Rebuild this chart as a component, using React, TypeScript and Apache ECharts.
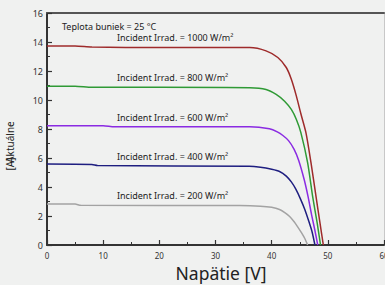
import React, { useEffect, useRef } from "react";
import * as echarts from "echarts";

const xTicks = [0, 10, 20, 30, 40, 50, 60];
const yTicks = [0, 2, 4, 6, 8, 10, 12, 14, 16];

const seriesNames = ["1000", "800", "600", "400", "200"];
const seriesColors = ["#9e2b2b", "#2f9a35", "#8a2be2", "#1e1e80", "#a3a3a3"];

const v1000 = [0, 5, 8, 20, 36.1, 39.0, 41.1, 42.6, 43.5, 44.4, 45.2, 46.1, 47.0, 47.9, 48.6, 49.2];
const i1000 = [13.72, 13.72, 13.65, 13.62, 13.62, 13.39, 12.93, 12.24, 11.43, 10.27, 9.05, 7.75, 5.68, 3.34, 1.52, 0];

const v800 = [0, 5, 8, 20, 36.1, 39.0, 40.8, 42.3, 43.5, 44.4, 45.2, 46.4, 47.3, 48.1, 48.7];
const i800 = [10.95, 10.95, 10.88, 10.88, 10.85, 10.73, 10.39, 9.92, 9.35, 8.66, 7.75, 5.68, 3.34, 1.52, 0];

const v600 = [0, 10, 12, 36.1, 39.6, 41.0, 42.0, 43.0, 44.0, 44.8, 45.8, 46.5, 47.1, 47.7, 48.2];
const i600 = [8.22, 8.22, 8.15, 8.15, 8.01, 7.8, 7.55, 7.2, 6.6, 5.85, 4.5, 3.3, 2.1, 1.0, 0];

const v400 = [0, 8, 9, 36, 38, 40, 41.4, 42.6, 43.5, 44.3, 45.1, 45.9, 46.6, 47.2, 47.7];
const i400 = [5.58, 5.55, 5.48, 5.43, 5.36, 5.22, 5.07, 4.75, 4.35, 3.85, 3.2, 2.45, 1.65, 0.9, 0];

const v200 = [0, 5, 6, 34.3, 38, 40, 41.4, 42.4, 43.2, 44.0, 44.6, 45.3, 45.9, 46.4];
const i200 = [2.82, 2.82, 2.74, 2.72, 2.68, 2.6, 2.45, 2.22, 1.96, 1.6, 1.27, 0.85, 0.45, 0];

const voltages = [v1000, v800, v600, v400, v200];
const currents = [i1000, i800, i600, i400, i200];

const annotationTexts = [
  "Incident Irrad. = 1000 W/m²",
  "Incident Irrad. = 800 W/m²",
  "Incident Irrad. = 600 W/m²",
  "Incident Irrad. = 400 W/m²",
  "Incident Irrad. = 200 W/m²",
];
const annotationY = [38, 78, 118, 157, 196];
const tempText = "Teplota buniek = 25 °C";
const xTitle = "Napätie [V]";
const yTitle = "Aktuálne";
const yUnit = "[A]";

const FONT = "Noto Sans";

export default function App() {
  const ref = useRef<HTMLDivElement>(null);
  useEffect(() => {
    if (!ref.current) return;
    const chart = echarts.init(ref.current, null, { renderer: "svg" });
    const axisLabelStyle = { color: "#333", fontFamily: FONT };
    const option: any = {
      animation: false,
      backgroundColor: "#f0f1f0",
      grid: { left: 47, right: 1, top: 13, bottom: 40, containLabel: false, outerBoundsMode: "none" },
      xAxis: [
        {
          type: "value",
          min: 0,
          max: 60,
          interval: 10,
          axisLine: { show: true, onZero: false, lineStyle: { color: "#333", width: 2 } },
          axisTick: { show: true, inside: true, length: 5, lineStyle: { color: "#333", width: 1.2 } },
          minorTick: { show: true, splitNumber: 2, length: 3, lineStyle: { color: "#333" } },
          splitLine: { show: false },
          axisLabel: { ...axisLabelStyle, fontSize: 8, margin: 6 },
        },
        {
          type: "value",
          position: "top",
          min: 0,
          max: 60,
          axisLine: { show: true, onZero: false, lineStyle: { color: "#555", width: 2 } },
          axisTick: { show: false },
          axisLabel: { show: false },
          splitLine: { show: false },
        },
      ],
      yAxis: [
        {
          type: "value",
          min: 0,
          max: 16,
          interval: 2,
          axisLine: { show: true, onZero: false, lineStyle: { color: "#333", width: 2 } },
          axisTick: { show: true, inside: true, length: 5, lineStyle: { color: "#333", width: 1.2 } },
          minorTick: { show: true, splitNumber: 2, length: 3, lineStyle: { color: "#333" } },
          splitLine: { show: false },
          axisLabel: { ...axisLabelStyle, fontSize: 9, margin: 4 },
        },
        {
          type: "value",
          position: "right",
          min: 0,
          max: 16,
          axisLine: { show: true, onZero: false, lineStyle: { color: "#c8c8c8", width: 1 } },
          axisTick: { show: false },
          axisLabel: { show: false },
          splitLine: { show: false },
        },
      ],
      series: seriesNames.map((name, k) => ({
        name,
        type: "line",
        xAxisIndex: 0,
        yAxisIndex: 0,
        showSymbol: false,
        smooth: 0.25,
        lineStyle: { color: seriesColors[k], width: 1.5 },
        data: voltages[k].map((v, j) => [v, currents[k][j]]),
      })),
      graphic: [
        {
          type: "text",
          left: 62,
          top: 22,
          style: { text: tempText, fontSize: 9, fontFamily: FONT, fill: "#222" },
        },
        ...annotationTexts.map((t, k) => ({
          type: "text",
          left: 117,
          top: annotationY[k] - 5,
          style: { text: t, fontSize: 9, fontFamily: FONT, fill: "#222" },
        })),
        {
          type: "text",
          x: 221,
          y: 273,
          style: {
            text: xTitle,
            fontSize: 17.5,
            fontFamily: FONT,
            fill: "#222",
            align: "center",
            verticalAlign: "middle",
          },
        },
        {
          type: "text",
          x: 10,
          y: 142,
          rotation: Math.PI / 2,
          style: {
            text: yTitle,
            fontSize: 10,
            fontFamily: FONT,
            fill: "#222",
            align: "center",
            verticalAlign: "middle",
          },
        },
        {
          type: "text",
          x: 10,
          y: 164,
          rotation: Math.PI / 2,
          style: {
            text: yUnit,
            fontSize: 10,
            fontFamily: FONT,
            fill: "#222",
            align: "center",
            verticalAlign: "middle",
          },
        },
      ],
    };
    chart.setOption(option);
    return () => chart.dispose();
  }, []);
  return (
    <div
      ref={ref}
      style={{ position: "fixed", left: 0, top: 0, width: 385, height: 285 }}
    />
  );
}
